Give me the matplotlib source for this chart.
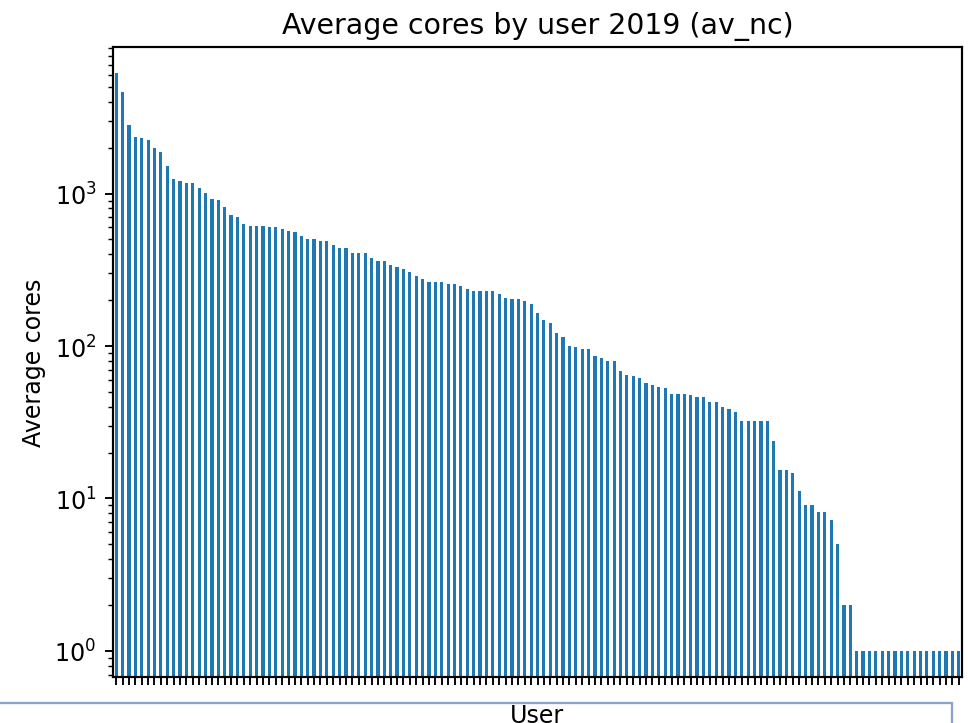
import matplotlib
matplotlib.use("Agg")
import matplotlib.pyplot as plt
from matplotlib.patches import Rectangle

av_nc = [
    6140, 4600, 2825, 2360, 2300, 2235, 1980, 1862, 1522, 1240,
    1202, 1172, 1172, 1081, 1003, 924, 902, 819, 719, 698,
    631, 615, 615, 615, 600, 600, 585, 568, 557, 527,
    501, 501, 488, 488, 462, 439, 439, 407, 407, 407,
    376, 359, 359, 340, 331, 321, 307, 289, 275, 262,
    262, 262, 255, 255, 249, 237, 231, 231, 231, 231,
    218, 207, 202, 202, 197, 188, 165, 149, 142, 121,
    115, 100.5, 98, 95.5, 95.5, 86.4, 83.8, 79.7, 79.7, 68.6,
    64.9, 63.3, 61.7, 56.9, 55.5, 54.1, 52.8, 48.7, 48.7, 48.7,
    47.5, 46.3, 46.3, 42.9, 42.9, 39.6, 38.6, 36.7, 32.2, 32.2,
    32.2, 32.2, 32.2, 23.7, 15.3, 15.3, 14.6, 11.2, 9.1, 9.1,
    8.2, 8.2, 7.2, 5.0, 2, 2, 1, 1, 1, 1,
    1, 1, 1, 1, 1, 1, 1, 1, 1, 1,
    1, 1, 1,
]
users = [f"user{i + 1:03d}" for i in range(len(av_nc))]

S = 1.13
plt.rcParams.update({
    "font.size": 10 * S,
    "axes.titlesize": 12 * S,
    "axes.labelsize": 10 * S,
    "xtick.labelsize": 10 * S,
    "ytick.labelsize": 10 * S,
    "xtick.major.size": 3.5 * S,
    "ytick.major.size": 3.5 * S,
    "ytick.minor.size": 2.0 * S,
    "xtick.major.pad": 3.5 * S,
    "ytick.major.pad": 3.5 * S,
    "xtick.major.width": 0.8 * S,
    "ytick.major.width": 0.8 * S,
    "ytick.minor.width": 0.6 * S,
    "axes.linewidth": 0.8 * S * 1.15,
    "axes.titlepad": 6 * S,
})

DPI = 151
fig = plt.figure(figsize=(968 / DPI, 724 / DPI), dpi=DPI)
ax = fig.add_axes([113 / 968, (724 - 678) / 724, (962 - 113) / 968, (678 - 48) / 724])

x = list(range(len(users)))
ax.bar(x, av_nc, width=0.5, color="#1f77b4")
ax.set_yscale("log")
ax.set_xlim(-0.5, len(users) - 0.5)
ax.set_ylim(0.675, 9140)
ax.set_xticks(x)
ax.set_xticklabels(users)
ax.tick_params(axis="x", labelbottom=False)

ax.set_title("Average cores by user 2019 (av_nc)")
ax.set_ylabel("Average cores")
ax.set_xlabel("User")
ax.xaxis.set_label_coords(0.5, -0.042)

fig.patches.append(Rectangle((-5 / 968, -10 / 724), 957 / 968, 30 / 724,
                             transform=fig.transFigure, fill=False,
                             edgecolor="#8aa4cc", linewidth=1.1, zorder=0))

fig.savefig("out.png", dpi=DPI)
